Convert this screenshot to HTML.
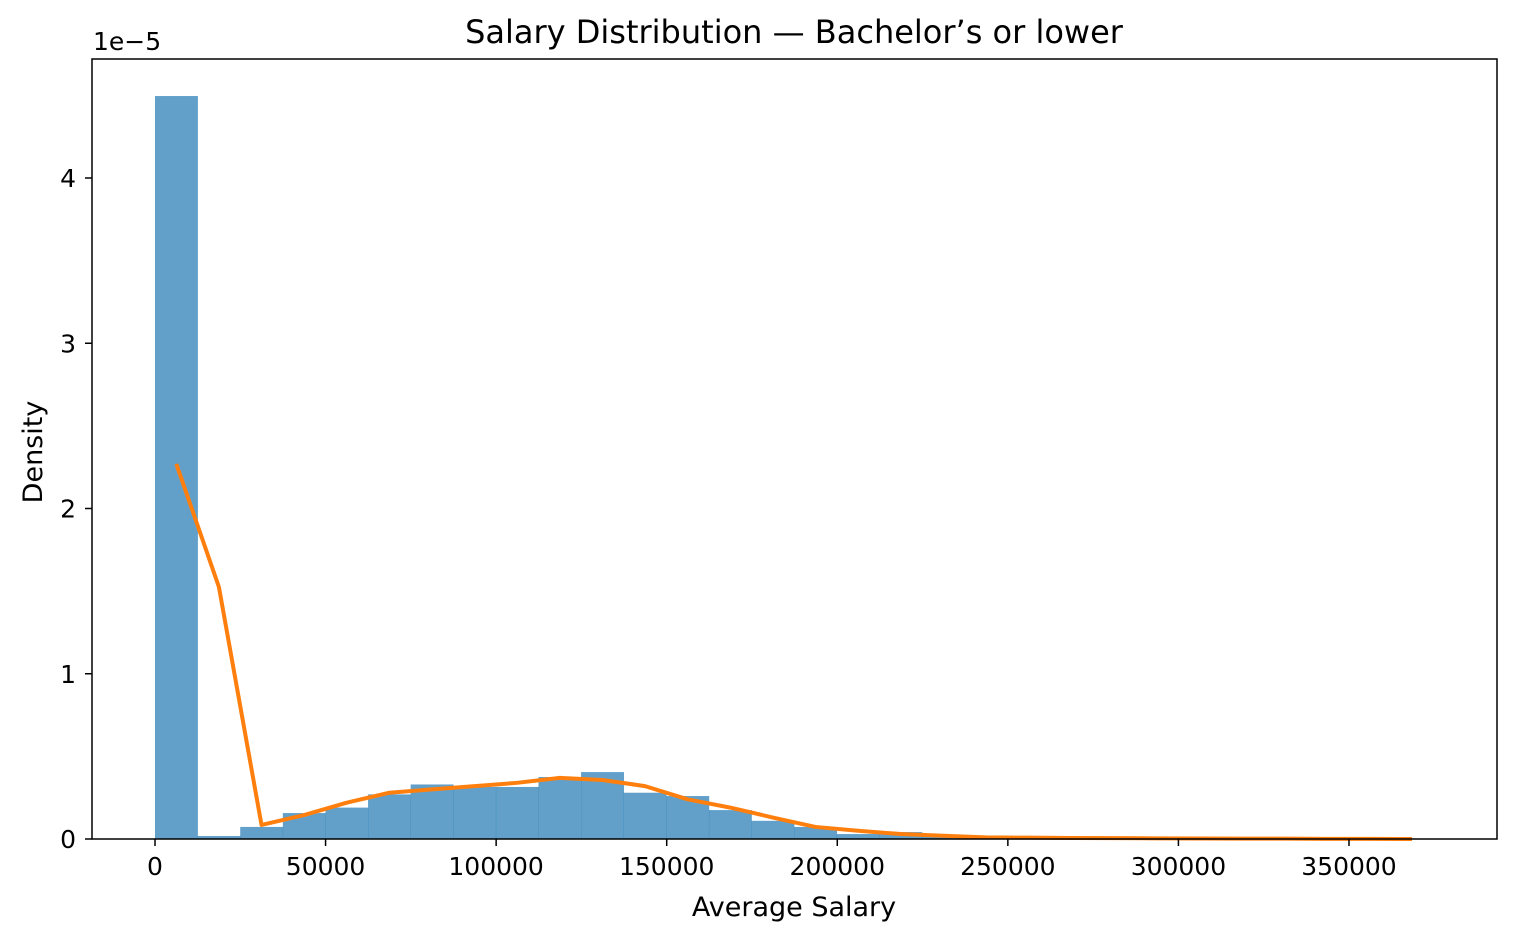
<!DOCTYPE html>
<html><head><meta charset="utf-8"><style>
body{margin:0;background:#fff}
svg{font-family:"DejaVu Sans","Liberation Sans",sans-serif}
</style></head><body>
<svg id="chart" width="1516" height="940">
<rect width="1516" height="940" fill="#fff"/>
<g id="bars"></g>
<polyline id="kde" fill="none" stroke="#ff7f0e" stroke-width="4" stroke-linejoin="round"/>
<rect x="92" y="59" width="1405" height="780" fill="none" stroke="#000" stroke-width="1.5"/>
<g id="axes" font-size="25"></g>
<text x="794" y="43" text-anchor="middle" font-size="32">Salary Distribution — Bachelor’s or lower</text>
<text x="794" y="916" text-anchor="middle" font-size="27">Average Salary</text>
<text transform="translate(42,452) rotate(-90)" text-anchor="middle" font-size="27">Density</text>
<text x="93" y="50" font-size="25">1e−5</text>
</svg>
<script>
const binWidth = 12490;
const barValues = [4.496,0.018,0.073,0.157,0.19,0.27,0.33,0.315,0.315,0.375,0.405,0.28,0.26,0.175,0.11,0.073,0.03,0.042,0.018,0.01,0.005,0.003,0.002,0.002,0.001,0.001,0.001,0.001,0.0,0.001];
const lineValues = [2.27,1.525,0.085,0.145,0.22,0.28,0.30,0.32,0.34,0.37,0.357,0.32,0.24,0.19,0.13,0.073,0.05,0.03,0.02,0.01,0.008,0.006,0.005,0.004,0.003,0.002,0.002,0.001,0.001,0.0];
const xTicks = [0,50000,100000,150000,200000,250000,300000,350000];
const yTicks = [0,1,2,3,4];
const NS="http://www.w3.org/2000/svg";
function xs(v){return 155 + v*0.0034114;}
function ys(v){return 839 - v*165.25;}
const bars=document.getElementById('bars');
barValues.forEach((v,i)=>{
  const r=document.createElementNS(NS,'rect');
  const x0=xs(i*binWidth), x1=xs((i+1)*binWidth);
  r.setAttribute('x',x0);r.setAttribute('width',x1-x0+0.3);
  r.setAttribute('y',ys(v));r.setAttribute('height',839-ys(v));
  r.setAttribute('fill','#1f77b4');r.setAttribute('fill-opacity','0.7');
  
  
  bars.appendChild(r);
});
document.getElementById('kde').setAttribute('points',lineValues.map((v,i)=>xs((i+0.5)*binWidth)+','+ys(v)).join(' '));
const ax=document.getElementById('axes');
xTicks.forEach(t=>{
  const l=document.createElementNS(NS,'line');
  l.setAttribute('x1',xs(t));l.setAttribute('x2',xs(t));l.setAttribute('y1',839);l.setAttribute('y2',846);l.setAttribute('stroke','#000');l.setAttribute('stroke-width','1.5');
  
  
  ax.appendChild(l);
  const tx=document.createElementNS(NS,'text');
  tx.setAttribute('x',xs(t));tx.setAttribute('y',875);tx.setAttribute('text-anchor','middle');tx.textContent=t;
  
  
  ax.appendChild(tx);
});
yTicks.forEach(t=>{
  const l=document.createElementNS(NS,'line');
  l.setAttribute('x1',85);l.setAttribute('x2',92);l.setAttribute('y1',ys(t));l.setAttribute('y2',ys(t));l.setAttribute('stroke','#000');l.setAttribute('stroke-width','1.5');
  
  
  ax.appendChild(l);
  const tx=document.createElementNS(NS,'text');
  tx.setAttribute('x',76);tx.setAttribute('y',ys(t)+9);tx.setAttribute('text-anchor','end');tx.textContent=t;
  
  
  ax.appendChild(tx);
});
</script>
</body></html>
